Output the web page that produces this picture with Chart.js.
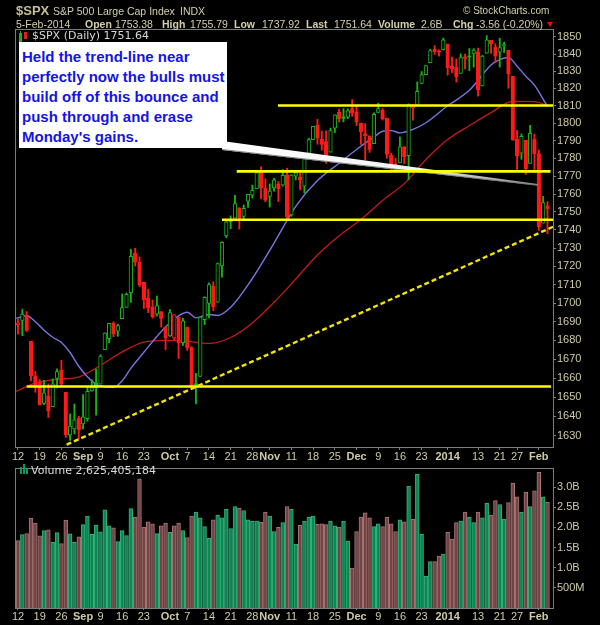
<!DOCTYPE html>
<html>
<head>
<meta charset="utf-8">
<script src="https://cdn.jsdelivr.net/npm/chart.js@4.4.1/dist/chart.umd.min.js"></script>
<style>
html,body{margin:0;padding:0;background:#000;}
#wrap{position:relative;width:600px;height:625px;overflow:hidden;background:#000;}
#priceCanvas{position:absolute;left:0;top:0;}
#volCanvas{position:absolute;left:0;top:460px;}
.t{position:absolute;white-space:nowrap;line-height:1;font-family:"Liberation Sans",Arial,sans-serif;color:#d4cfa8;font-size:10.5px;}
.b{font-weight:bold;}
.leg{position:absolute;white-space:nowrap;line-height:1;font-family:"DejaVu Sans",sans-serif;font-size:11px;color:#d8d8d8;}
#note{position:absolute;left:19px;top:42px;width:208px;height:106px;background:#fff;}
#noteText{position:absolute;left:3px;top:5px;font-family:"Liberation Sans",Arial,sans-serif;font-weight:bold;font-size:15px;line-height:20px;color:#1414e6;white-space:nowrap;}
.ic{position:absolute;}
</style>
</head>
<body>
<div id="wrap">
<canvas id="priceCanvas" width="600" height="470"></canvas>
<canvas id="volCanvas" width="600" height="165"></canvas>

<div class="t b" style="left:16px;top:4px;font-size:13px;color:#c4bf95;">$SPX</div>
<div class="t" style="left:53px;top:6px;">S&amp;P 500 Large Cap Index</div>
<div class="t" style="left:180px;top:6px;">INDX</div>
<div class="t" style="left:463px;top:6px;font-size:10px;">© StockCharts.com</div>

<div class="t" style="left:16px;top:19px;">5-Feb-2014</div>
<div class="t b" style="left:85px;top:19px;">Open</div>
<div class="t" style="left:115px;top:19px;">1753.38</div>
<div class="t b" style="left:162px;top:19px;">High</div>
<div class="t" style="left:190px;top:19px;">1755.79</div>
<div class="t b" style="left:234px;top:19px;">Low</div>
<div class="t" style="left:262px;top:19px;">1737.92</div>
<div class="t b" style="left:306px;top:19px;">Last</div>
<div class="t" style="left:334px;top:19px;">1751.64</div>
<div class="t b" style="left:378px;top:19px;">Volume</div>
<div class="t" style="left:421px;top:19px;">2.6B</div>
<div class="t b" style="left:453px;top:19px;">Chg</div>
<div class="t" style="left:476px;top:19px;">-3.56 (-0.20%)</div>
<div class="ic" style="left:547px;top:22px;width:0;height:0;border-left:3px solid transparent;border-right:3px solid transparent;border-top:5px solid #e01010;"></div>

<div class="ic" style="left:19px;top:33px;width:1px;height:7px;border:1px solid #22b022;"></div>
<div class="ic" style="left:20px;top:31px;width:1px;height:11px;background:#22b022;"></div>
<div class="ic" style="left:24px;top:32px;width:3px;height:7px;background:#e02020;"></div>
<div class="leg" style="left:32px;top:30px;">$SPX (Daily) 1751.64</div>

<div class="ic" style="left:20px;top:467px;width:2px;height:7px;background:#0d9a5e;"></div>
<div class="ic" style="left:23px;top:464px;width:2px;height:10px;background:#0d9a5e;"></div>
<div class="ic" style="left:26px;top:468px;width:2px;height:6px;background:#0d9a5e;"></div>
<div class="leg" style="left:31px;top:465px;">Volume 2,625,405,184</div>

<div id="note"><div id="noteText">Held the trend-line near<br>perfectly now the bulls must<br>build off of this bounce and<br>push through and erase<br>Monday's gains.</div></div>
</div>

<script>
// ---------------- DATA ----------------
const dates = [
 '2013-08-12','2013-08-13','2013-08-14','2013-08-15','2013-08-16','2013-08-19','2013-08-20','2013-08-21','2013-08-22','2013-08-23',
 '2013-08-26','2013-08-27','2013-08-28','2013-08-29','2013-08-30','2013-09-03','2013-09-04','2013-09-05','2013-09-06','2013-09-09',
 '2013-09-10','2013-09-11','2013-09-12','2013-09-13','2013-09-16','2013-09-17','2013-09-18','2013-09-19','2013-09-20','2013-09-23',
 '2013-09-24','2013-09-25','2013-09-26','2013-09-27','2013-09-30','2013-10-01','2013-10-02','2013-10-03','2013-10-04','2013-10-07',
 '2013-10-08','2013-10-09','2013-10-10','2013-10-11','2013-10-14','2013-10-15','2013-10-16','2013-10-17','2013-10-18','2013-10-21',
 '2013-10-22','2013-10-23','2013-10-24','2013-10-25','2013-10-28','2013-10-29','2013-10-30','2013-10-31','2013-11-01','2013-11-04',
 '2013-11-05','2013-11-06','2013-11-07','2013-11-08','2013-11-11','2013-11-12','2013-11-13','2013-11-14','2013-11-15','2013-11-18',
 '2013-11-19','2013-11-20','2013-11-21','2013-11-22','2013-11-25','2013-11-26','2013-11-27','2013-11-29','2013-12-02','2013-12-03',
 '2013-12-04','2013-12-05','2013-12-06','2013-12-09','2013-12-10','2013-12-11','2013-12-12','2013-12-13','2013-12-16','2013-12-17',
 '2013-12-18','2013-12-19','2013-12-20','2013-12-23','2013-12-24','2013-12-26','2013-12-27','2013-12-30','2013-12-31','2014-01-02',
 '2014-01-03','2014-01-06','2014-01-07','2014-01-08','2014-01-09','2014-01-10','2014-01-13','2014-01-14','2014-01-15','2014-01-16',
 '2014-01-17','2014-01-21','2014-01-22','2014-01-23','2014-01-24','2014-01-27','2014-01-28','2014-01-29','2014-01-30','2014-01-31',
 '2014-02-03','2014-02-04','2014-02-05'];

const opens = [
 1688.4,1690.7,1693.4,1679.6,1661.2,1658.0,1646.8,1650.7,1645.0,1659.9,
 1664.3,1652.5,1630.3,1633.5,1638.9,1636.0,1638.8,1653.3,1657.4,1656.9,
 1675.1,1681.0,1689.2,1685.0,1691.7,1697.7,1705.7,1727.3,1722.4,1711.4,
 1702.6,1698.0,1694.1,1695.5,1687.3,1682.4,1681.3,1692.4,1678.8,1687.2,
 1676.2,1657.0,1660.9,1691.1,1699.9,1709.2,1700.5,1720.2,1736.7,1745.2,
 1746.5,1752.3,1747.5,1756.0,1759.4,1763.0,1772.3,1763.2,1758.7,1763.4,
 1765.7,1765.0,1770.7,1748.4,1770.0,1769.5,1764.4,1782.8,1790.7,1798.8,
 1790.8,1789.6,1783.5,1797.2,1806.3,1802.9,1803.5,1808.4,1806.6,1800.1,
 1794.1,1792.8,1788.4,1806.2,1807.6,1802.8,1781.7,1777.0,1777.5,1786.5,
 1781.5,1809.0,1810.4,1822.9,1828.0,1835.0,1843.0,1841.5,1842.6,1845.9,
 1833.2,1832.3,1828.7,1837.9,1839.0,1840.1,1841.3,1821.4,1840.5,1848.0,
 1844.2,1841.1,1844.7,1842.3,1827.0,1791.0,1783.0,1790.2,1777.2,1790.9,
 1782.7,1743.8,1753.4];

const highs = [
 1691.5,1696.8,1695.5,1679.6,1663.6,1659.2,1658.9,1657.0,1659.6,1664.9,
 1669.5,1652.5,1641.2,1646.4,1640.1,1651.4,1655.7,1659.2,1664.8,1672.4,
 1684.1,1689.1,1690.0,1688.7,1705.0,1705.5,1729.4,1729.9,1725.2,1711.4,
 1707.6,1701.7,1703.9,1695.5,1687.3,1696.6,1693.9,1692.4,1691.9,1687.2,
 1676.8,1662.5,1692.6,1703.4,1711.0,1711.6,1721.8,1733.5,1745.3,1747.8,
 1759.3,1752.3,1753.9,1759.8,1765.0,1772.1,1775.2,1768.5,1765.7,1768.8,
 1767.0,1773.7,1774.5,1770.8,1773.4,1771.8,1782.0,1791.5,1798.2,1802.3,
 1795.5,1795.7,1797.2,1804.8,1808.1,1808.4,1808.3,1813.6,1810.0,1800.1,
 1799.8,1792.8,1806.0,1811.5,1808.5,1803.0,1783.0,1780.1,1792.2,1786.8,
 1811.1,1810.9,1823.8,1829.8,1833.3,1842.8,1844.9,1842.5,1849.4,1845.9,
 1838.2,1837.2,1840.1,1840.0,1843.2,1843.2,1843.5,1839.3,1850.8,1848.0,
 1846.0,1849.3,1846.9,1842.3,1827.0,1796.0,1793.9,1790.2,1798.8,1793.9,
 1784.8,1758.7,1755.8];

const lows = [
 1683.4,1682.6,1684.8,1658.6,1652.6,1645.9,1646.1,1639.4,1645.0,1654.8,
 1656.0,1629.1,1627.5,1630.9,1628.1,1633.4,1637.4,1653.1,1640.6,1656.9,
 1675.1,1678.7,1682.0,1682.2,1691.7,1697.7,1700.4,1720.2,1708.9,1697.1,
 1694.9,1691.9,1693.1,1687.1,1675.0,1682.1,1680.3,1670.4,1677.3,1674.7,
 1655.0,1646.5,1660.9,1688.5,1692.1,1695.9,1700.5,1714.1,1735.7,1740.7,
 1746.5,1740.5,1745.5,1752.5,1757.7,1763.0,1757.2,1755.7,1752.7,1761.6,
 1755.8,1764.4,1746.2,1747.6,1767.9,1762.3,1760.6,1780.2,1790.7,1788.0,
 1784.7,1777.2,1783.5,1794.7,1800.6,1800.8,1802.6,1804.0,1798.6,1787.9,
 1779.1,1783.4,1788.4,1806.2,1801.8,1780.1,1772.3,1772.5,1777.5,1777.1,
 1768.0,1801.8,1810.3,1822.9,1828.0,1835.0,1839.8,1838.8,1842.4,1827.7,
 1829.1,1823.7,1828.7,1831.4,1830.4,1832.4,1815.5,1821.4,1840.5,1840.3,
 1835.2,1832.4,1840.9,1820.1,1790.3,1772.9,1779.5,1771.0,1777.2,1772.3,
 1739.7,1743.8,1737.9];

const closes = [
 1689.47,1694.16,1685.39,1661.32,1655.83,1646.06,1652.35,1642.80,1656.96,1663.50,
 1656.78,1630.48,1634.96,1638.17,1632.97,1639.77,1653.08,1655.08,1655.17,1671.71,
 1683.99,1689.13,1683.42,1687.99,1697.60,1704.76,1725.52,1722.34,1709.91,1701.84,
 1697.42,1692.77,1698.67,1691.75,1681.55,1695.00,1693.87,1678.66,1690.50,1676.12,
 1655.45,1656.40,1692.56,1703.20,1710.14,1698.06,1721.54,1733.15,1744.50,1744.66,
 1754.67,1746.38,1752.07,1759.77,1762.11,1771.95,1763.31,1756.54,1761.64,1767.93,
 1762.97,1770.49,1747.15,1770.61,1771.89,1767.69,1782.00,1790.62,1798.18,1791.53,
 1787.87,1781.37,1795.85,1804.76,1802.48,1802.75,1807.23,1805.81,1800.90,1795.15,
 1792.81,1785.03,1805.09,1808.37,1802.62,1782.22,1775.50,1775.32,1786.54,1781.00,
 1810.65,1809.60,1818.32,1827.99,1833.32,1842.02,1841.40,1841.07,1848.36,1831.98,
 1831.37,1826.77,1837.88,1837.49,1838.13,1842.37,1819.20,1838.88,1848.38,1845.89,
 1838.70,1843.80,1844.86,1828.46,1790.29,1781.56,1792.50,1774.20,1794.19,1782.59,
 1741.89,1755.20,1751.64];

const priorClose = 1691.42;   // close of the session before the first candle

const volumesB = [
 1.675,1.82,1.85,2.23,2.11,1.79,1.92,1.94,1.63,1.87,
 1.60,2.18,1.84,1.63,1.77,2.07,2.28,1.83,2.06,1.89,
 2.44,2.04,1.99,1.65,1.92,1.80,2.47,2.25,3.21,2.01,
 2.14,2.09,1.85,2.04,2.11,1.88,2.04,2.11,1.92,1.75,
 2.28,2.38,2.24,2.02,1.73,2.19,2.31,2.24,2.45,1.97,
 2.52,2.48,2.42,2.19,2.16,2.16,2.13,2.38,2.28,1.90,
 2.00,2.12,2.52,2.45,1.59,2.05,2.16,2.26,2.28,2.08,
 2.09,2.07,2.16,2.04,2.01,2.16,1.66,0.99,1.90,2.26,
 2.36,2.24,2.02,2.09,2.02,2.26,2.09,1.90,2.19,2.14,
 3.03,2.20,3.32,1.83,0.79,1.15,1.15,1.29,1.34,1.88,
 1.71,2.12,2.16,2.38,2.26,2.12,2.38,2.24,2.60,2.31,
 2.67,2.57,2.21,2.62,3.10,2.76,2.38,2.88,2.52,2.91,
 3.37,2.76,2.63];

// moving averages: [day index, value]
const ma20 = [[-1,1691.7],[0,1692.1],[2,1693.2],[4,1690.0],[6,1685.5],[8,1681.7],[10,1678.9],[12,1673.6],[14,1666.3],
 [16,1660.7],[18,1656.8],[20,1655.5],[22,1655.2],[24,1658.6],[26,1665.2],[29,1673.7],[32,1682.1],[34,1687.2],[37,1693.2],
 [39,1695.1],[41,1692.1],[44,1693.9],[46,1693.4],[49,1697.8],[54,1713.4],[59,1732.8],[64,1753.1],[69,1767.5],[74,1777.3],
 [79,1786.9],[82,1792.0],[84,1795.4],[86,1795.8],[88,1794.5],[91,1796.5],[94,1800.3],[99,1810.0],[104,1818.9],[109,1833.6],
 [111,1836.7],[113,1838.0],[115,1832.9],[117,1827.1],[119,1821.9],[121,1813.8],[122,1809.5]];
const ma50 = [[-1,1652.4],[0,1653.5],[4,1657.4],[9,1659.4],[14,1660.6],[19,1666.7],[24,1673.9],[29,1679.1],[34,1680.0],
 [39,1679.5],[44,1678.4],[49,1681.6],[54,1689.4],[59,1700.5],[64,1713.1],[69,1726.2],[74,1736.8],[79,1745.8],[84,1756.4],
 [89,1765.8],[94,1779.4],[99,1790.7],[104,1798.6],[109,1806.1],[114,1812.5],[119,1812.4],[122,1810.1]];

// drawn support/resistance levels: [from day, to day, price]
const levelLines = [[59.9,123.3,1810.2],[50.4,122.7,1772.7],[47.0,123.3,1745.7],[2.0,122.8,1655.6]];
// dashed trend-line: [day, price] end points
const trendLine = [[11.2,1625.3],[123.3,1741.8]];
// callout tip: [day, price]
const calloutTip = [119.8,1765.2];

const xTickIdx  = [0,5,10,15,19,24,29,35,39,44,49,54,58,63,68,73,78,83,88,93,99,106,111,115,120];
const xTickText = ['12','19','26','Sep','9','16','23','Oct','7','14','21','28','Nov','11','18','25','Dec','9','16','23','2014','13','21','27','Feb'];
const xMajorText = ['Sep','Oct','Nov','Dec','2014','Feb'];
const priceTicks = [1630,1640,1650,1660,1670,1680,1690,1700,1710,1720,1730,1740,1750,1760,1770,1780,1790,1800,1810,1820,1830,1840,1850];
const volTickValues = [0.5,1.0,1.5,2.0,2.5,3.0];
const volTickLabels = ['500M','1.0B','1.5B','2.0B','2.5B','3.0B'];

// ---------------- STYLE ----------------
const FONT = '"Liberation Sans", Arial, sans-serif';
const AXIS_TXT = '#d0cba4';
const BORDER = '#7c7c7c';
const GREEN = '#18b418', RED = '#ff1a1a';
const X_MIN = -0.69, X_MAX = 123.27;

const upDay = closes.map((c,i) => c >= (i === 0 ? priorClose : closes[i-1]));
const candleColor = upDay.map(u => u ? GREEN : RED);
const bodyFill = closes.map((c,i) => c < opens[i] ? candleColor[i] : '#000000');

const wickData = closes.map((c,i) => ({x:i, y:[lows[i], highs[i]]}));
const bodyData = closes.map((c,i) => ({x:i, y:[opens[i], c]}));

const labelFor = v => { const k = xTickIdx.indexOf(v); return k >= 0 ? xTickText[k] : ''; };

function xAxis(h, tl){
  return {
    type:'linear', min:X_MIN, max:X_MAX, offset:false, bounds:'data',
    afterBuildTicks: ax => { ax.ticks = xTickIdx.map(v => ({value:v})); },
    afterFit: ax => { ax.height = h; },
    ticks:{autoSkip:false, maxRotation:0, minRotation:0, padding:0, color:AXIS_TXT,
      font: c => ({family:FONT, size:11, weight: (c.tick && xMajorText.includes(labelFor(c.tick.value))) ? 'bold' : 'normal'}),
      callback: v => labelFor(v)},
    grid:{display:true, offset:false, drawOnChartArea:false, drawTicks:true, tickLength:tl, color:BORDER},
    border:{display:false}
  };
}

const panelBorder = {
  id:'panelBorder',
  afterDraw(chart){
    const {ctx, chartArea:a} = chart;
    ctx.save();
    ctx.strokeStyle = BORDER; ctx.lineWidth = 1;
    ctx.strokeRect(Math.round(a.left)+0.5, Math.round(a.top)+0.5, Math.round(a.right-a.left), Math.round(a.bottom-a.top));
    ctx.restore();
  }
};

const callout = {
  id:'callout',
  afterDatasetDraw(chart, args){
    if (chart.data.datasets[args.index].id !== 'bodies') return;
    const {ctx} = chart;
    const tx = chart.scales.x.getPixelForValue(calloutTip[0]);
    const ty = chart.scales.y.getPixelForValue(calloutTip[1]);
    const bx = 222, byTop = 141, byBot = 150;
    ctx.save();
    const g = ctx.createLinearGradient(bx, 0, tx, 0);
    g.addColorStop(0, '#ffffff'); g.addColorStop(0.62, '#f2f2f2'); g.addColorStop(1, '#8a8a8a');
    ctx.beginPath();
    ctx.moveTo(bx, byTop); ctx.lineTo(tx, ty - 0.8); ctx.lineTo(tx, ty + 0.8); ctx.lineTo(bx, byBot); ctx.closePath();
    ctx.fillStyle = g; ctx.fill();
    ctx.beginPath(); ctx.moveTo(bx, byBot - 0.5); ctx.lineTo(tx, ty + 0.6);
    ctx.strokeStyle = 'rgba(120,120,120,0.9)'; ctx.lineWidth = 1; ctx.stroke();
    ctx.restore();
  }
};

// ---------------- PRICE CHART ----------------
const lineDs = (pts, color, width, order, dash) => ({
  type:'line', data: pts.map(p => ({x:p[0], y:p[1]})), borderColor:color, borderWidth:width,
  pointRadius:0, fill:false, order:order, borderDash: dash || [], cubicInterpolationMode:'monotone'
});

const priceDatasets = [
  lineDs(ma50, '#c41a1a', 1.3, 7),
  lineDs(ma20, '#7676e0', 1.4, 6),
  {id:'wicks', type:'bar', data:wickData, backgroundColor:candleColor, borderWidth:0,
   barThickness:1.2, grouped:false, order:5},
  {id:'bodies', type:'bar', data:bodyData, backgroundColor:bodyFill, borderColor:candleColor,
   borderWidth:1, borderSkipped:false, barThickness:3.6, minBarLength:1.5, grouped:false, order:4}
];
levelLines.forEach(l => priceDatasets.push(lineDs([[l[0], l[2]],[l[1], l[2]]], '#ffff00', 2.6, 2)));
priceDatasets.push(lineDs(trendLine, '#f2e600', 2.4, 1, [5,3]));

new Chart(document.getElementById('priceCanvas'), {
  type:'bar',
  data:{datasets:priceDatasets},
  options:{
    responsive:false, animation:false, devicePixelRatio:1, events:[],
    layout:{padding:{left:15, top:29, right:0, bottom:0}},
    plugins:{legend:{display:false}, tooltip:{enabled:false}},
    scales:{
      x: xAxis(23, 3),
      y: {type:'logarithmic', position:'right', min:1624.1, max:1854.7, bounds:'data', beginAtZero:false,
        afterBuildTicks: ax => { ax.ticks = priceTicks.map(v => ({value:v})); },
        afterFit: ax => { ax.width = 47; },
        ticks:{color:AXIS_TXT, padding:1, font:{family:FONT, size:11}, callback: v => String(v)},
        grid:{drawOnChartArea:false, drawTicks:true, tickLength:3, color:BORDER},
        border:{display:false}}
    }
  },
  plugins:[panelBorder, callout]
});

// ---------------- VOLUME CHART ----------------
const volFill = upDay.map(u => u ? '#0b8754' : '#714545');
const volEdge = upDay.map(u => u ? '#38b07c' : '#a87474');

new Chart(document.getElementById('volCanvas'), {
  type:'bar',
  data:{datasets:[{data: volumesB.map((v,i) => ({x:i, y:v})), backgroundColor:volFill, borderColor:volEdge,
    borderWidth:1, borderSkipped:'start', barThickness:3.8, grouped:false}]},
  options:{
    responsive:false, animation:false, devicePixelRatio:1, events:[],
    layout:{padding:{left:15, top:3, right:0, bottom:0}},
    plugins:{legend:{display:false}, tooltip:{enabled:false}},
    scales:{
      x: xAxis(17, 2),
      y: {type:'linear', position:'right', min:0, max:3.486, bounds:'data',
        afterBuildTicks: ax => { ax.ticks = volTickValues.map(v => ({value:v})); },
        afterFit: ax => { ax.width = 47; },
        ticks:{color:AXIS_TXT, padding:1, font:{family:FONT, size:11},
          callback: v => { const k = volTickValues.indexOf(v); return k >= 0 ? volTickLabels[k] : ''; }},
        grid:{drawOnChartArea:false, drawTicks:true, tickLength:3, color:BORDER},
        border:{display:false}}
    }
  },
  plugins:[panelBorder]
});
</script>
</body>
</html>
